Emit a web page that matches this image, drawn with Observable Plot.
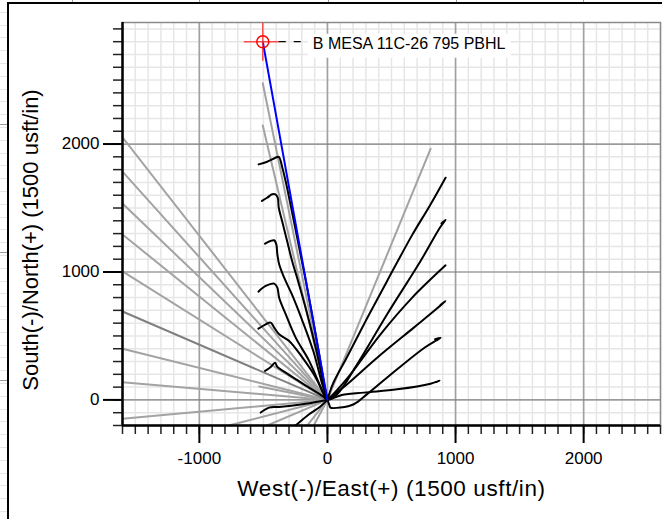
<!DOCTYPE html>
<html>
<head>
<meta charset="utf-8">
<script src="https://cdn.jsdelivr.net/npm/d3@7"></script>
<script src="https://cdn.jsdelivr.net/npm/@observablehq/plot@0.6"></script>
<style>
  html, body { margin: 0; padding: 0; background: #fff; }
  #wrap { position: relative; width: 662px; height: 519px; overflow: hidden; background: #fff; }
  #leftstrip { position: absolute; left: 0; top: 0; width: 7px; height: 519px;
    background: repeating-linear-gradient(to bottom, transparent 0, transparent 11.8px, #e6e6e6 11.8px, #e6e6e6 12.8px); }
  .stubh { position: absolute; left: 0; width: 7px; height: 1px; background: #9a9a9a; }
  .stubv { position: absolute; top: 0; width: 1px; height: 2px; background: #9a9a9a; }
  #frame { position: absolute; left: 7px; top: 2px; width: 700px; height: 600px;
    border-left: 2px solid #000; border-top: 2px solid #000; }
  #chart { position: absolute; left: 0; top: 0; }
</style>
</head>
<body>
<div id="wrap">
  <div id="leftstrip"></div>
  <div class="stubh" style="top:124px"></div>
  <div class="stubh" style="top:252px"></div>
  <div class="stubh" style="top:380px"></div>
  <div class="stubv" style="left:72px"></div>
  <div class="stubv" style="left:199px"></div>
  <div class="stubv" style="left:328px"></div>
  <div class="stubv" style="left:456px"></div>
  <div class="stubv" style="left:583px"></div>
  <div id="frame"></div>
  <div id="chart"></div>
</div>
<script>
// ---------- axes ----------
const xDomain = [-1600, 2600];
const yDomain = [-200, 2950];
const minorX = d3.range(-1600, 2601, 100);
const minorY = d3.range(-200, 2901, 100);
const majorX = [-1000, 0, 1000, 2000];
const majorY = [0, 1000, 2000];
const xTitle = "West(-)/East(+) (1500 usft/in)";
const yTitle = "South(-)/North(+) (1500 usft/in)";

// ---------- offset wells (straight, from pad at origin) ----------
const padOrigin = [0, 0];
const grayWellEnds = [
  [-1600, 2053], [-1600, 1785], [-1600, 1535], [-1600, 1293], [-1600, 1004],
  [-1600, 400], [-1600, 139], [-1600, -148],
  [-533, 105],
  [-770, -200], [-470, -200], [-158, -200], [-107, -200],
  [-505, 2475], [-505, 2145],
  [805, 1963]
];
const darkGrayWellEnds = [[-1600, 691]];

// ---------- surveyed wells (black) ----------
const curveA = [[0,0],[-25,120],[-65,360],[-115,640],[-169,930],[-221,1190],[-273,1451],[-320,1680],[-352,1815],[-380,1900],[-406,1893],[-471,1862],[-537,1841]];
const curveB = [[0,0],[-30,120],[-85,380],[-160,680],[-237,955],[-276,1086],[-315,1242],[-354,1398],[-380,1502],[-388,1580],[-406,1607],[-432,1607],[-471,1580],[-511,1555]];
const curveC = [[0,0],[-40,120],[-110,380],[-200,630],[-280,830],[-338,955],[-377,1060],[-391,1138],[-400,1220],[-416,1248],[-450,1240],[-487,1221]];
const curveD = [[0,0],[-39,70],[-143,305],[-248,487],[-326,670],[-377,799],[-391,877],[-416,909],[-482,891],[-539,846]];
const curveE = [[0,0],[-16,18],[-91,174],[-195,330],[-299,461],[-377,513],[-416,565],[-443,604],[-482,591],[-539,557]];
const curveF = [[0,0],[-39,31],[-143,96],[-248,162],[-326,213],[-391,258],[-409,291],[-443,258],[-487,227]];
const curveG = [[0,0],[-13,-2],[-195,-34],[-377,-55],[-456,-60],[-521,-99]];
const curveH = [[0,0],[-60,-55],[-143,-112],[-260,-210]];
const curveR1 = [[0,0],[40,120],[150,330],[300,620],[466,930],[662,1290],[800,1520],[922,1737]];
const curveR2 = [[0,0],[76,45],[232,279],[466,670],[727,1086],[880,1350],[922,1408],[890,1380]];
const curveR3 = [[0,0],[60,60],[180,200],[414,513],[662,800],[922,1052]];
const curveR4 = [[0,0],[50,40],[154,123],[388,330],[674,565],[850,710],[922,773],[880,740]];
const curveR5 = [[0,0],[15,-40],[23,-60],[102,-60],[206,-34],[310,45],[544,240],[760,410],[850,465],[883,486],[840,474]];
const curveR6 = [[0,0],[23,5],[100,35],[284,57],[544,83],[805,127],[875,150],[850,140]];

// ---------- planned well (blue) and target ----------
const planWell = [[0, 0], [-505, 2800]];
const targets = [{x: -505, y: 2800, name: "B MESA 11C-26 795 PBHL"}];

// ---------- build tables ----------
const grayRows = grayWellEnds.flatMap((e, i) => [
  {id: i, x: padOrigin[0], y: padOrigin[1]}, {id: i, x: e[0], y: e[1]}]);
const darkGrayRows = darkGrayWellEnds.flatMap((e, i) => [
  {id: i, x: padOrigin[0], y: padOrigin[1]}, {id: i, x: e[0], y: e[1]}]);
const blackCurves = [curveA, curveB, curveC, curveD, curveE, curveF, curveG, curveH,
                     curveR1, curveR2, curveR3, curveR4, curveR5, curveR6];
const blackRows = blackCurves.flatMap((c, i) => c.map(p => ({id: i, x: p[0], y: p[1]})));

// pixel-sized symbols (styles only)
const crossSymbol = {draw(ctx, size) { const r = Math.sqrt(size / Math.PI);
  ctx.moveTo(-r, 0); ctx.lineTo(r * 0.85, 0); ctx.moveTo(0, -r); ctx.lineTo(0, r); }};
const leaderSymbol = {draw(ctx) { ctx.moveTo(16, 0); ctx.lineTo(39, 0); }};
const boxSymbol = {draw(ctx) { ctx.rect(45, -8, 203, 24); }};

const font = "'Liberation Sans', Arial, Helvetica, sans-serif";
const plainFormat = d => String(d);

const chart = Plot.plot({
  width: 662,
  height: 519,
  marginLeft: 122,
  marginRight: 2,
  marginTop: 22,
  marginBottom: 94,
  x: {domain: xDomain},
  y: {domain: yDomain},
  style: {fontFamily: font, background: "transparent", color: "#000"},
  marks: [
    Plot.gridX(minorX, {stroke: "#e6e6e6", strokeOpacity: 1, strokeWidth: 1.5}),
    Plot.gridY(minorY, {stroke: "#e6e6e6", strokeOpacity: 1, strokeWidth: 1.5}),
    Plot.gridX(majorX, {stroke: "#a0a0a0", strokeOpacity: 1, strokeWidth: 1.6}),
    Plot.gridY(majorY, {stroke: "#808080", strokeOpacity: 1, strokeWidth: 1.2}),
    Plot.frame({stroke: "#8a8a8a", strokeWidth: 1.5}),
    Plot.line(grayRows, {x: "x", y: "y", z: "id", stroke: "#a3a3a3", strokeWidth: 2, clip: true}),
    Plot.line(darkGrayRows, {x: "x", y: "y", z: "id", stroke: "#7f7f7f", strokeWidth: 2, clip: true}),
    Plot.line(blackRows, {x: "x", y: "y", z: "id", stroke: "#000", strokeWidth: 2,
      curve: "catmull-rom", strokeLinejoin: "round", clip: true}),
    Plot.line(planWell, {x: d => d[0], y: d => d[1], stroke: "#0000ff", strokeWidth: 2}),
    Plot.dot(targets, {x: "x", y: "y", symbol: crossSymbol, r: 19, stroke: "#ff3030",
      strokeOpacity: 0.85, strokeWidth: 1.5, fill: "none"}),
    Plot.dot(targets, {x: "x", y: "y", r: 6, stroke: "#ff0000", strokeWidth: 1.5, fill: "none"}),
    Plot.dot(targets, {x: "x", y: "y", symbol: leaderSymbol, r: 10, stroke: "#000",
      strokeWidth: 1.3, strokeDasharray: "7,8", fill: "none"}),
    Plot.dot(targets, {x: "x", y: "y", symbol: boxSymbol, r: 10, fill: "#fff", stroke: "none"}),
    Plot.text(targets, {x: "x", y: "y", text: "name", dx: 50, dy: 2, textAnchor: "start",
      lineAnchor: "middle", fontSize: 16, fill: "#000"}),
    Plot.axisX(minorX, {tickSize: 9, tickFormat: () => "", label: null, stroke: "#222", strokeWidth: 1.5}),
    Plot.axisX(majorX, {tickSize: 18, tickPadding: 8, fontSize: 17, tickFormat: plainFormat,
      label: null, stroke: "#000", strokeWidth: 2}),
    Plot.axisY(minorY, {tickSize: 9, tickFormat: () => "", label: null, stroke: "#222", strokeWidth: 1.5}),
    Plot.axisY(majorY, {tickSize: 19, tickPadding: 4, fontSize: 17, tickFormat: plainFormat,
      label: null, stroke: "#000", strokeWidth: 2}),
    Plot.ruleX([xDomain[0]], {stroke: "#000", strokeWidth: 2.5}),
    Plot.ruleY([yDomain[0]], {stroke: "#000", strokeWidth: 2.5}),
    Plot.text([xTitle], {frameAnchor: "bottom", dy: 63, textAnchor: "middle", lineAnchor: "middle",
      fontSize: 22.5, fill: "#000"}),
    Plot.text([yTitle], {frameAnchor: "left", dx: -92, dy: 16, rotate: -90, textAnchor: "middle",
      lineAnchor: "middle", fontSize: 22, fill: "#000"})
  ]
});
// slightly wider tracking on the x-axis title, as in the reference
d3.select(chart).selectAll("text").filter(function() {
  return this.textContent === xTitle;
}).style("letter-spacing", "0.6px");
document.getElementById("chart").appendChild(chart);
</script>
</body>
</html>
